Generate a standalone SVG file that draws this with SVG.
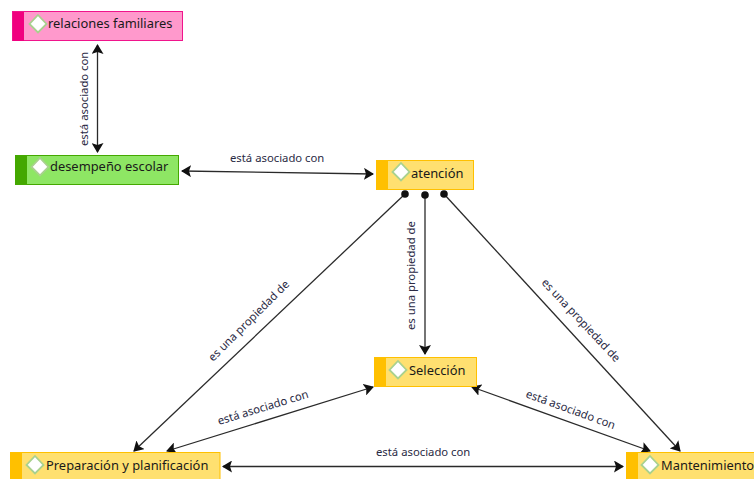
<svg xmlns="http://www.w3.org/2000/svg" width="754" height="479" viewBox="0 0 754 479">
<style>
.n{font:12.9px "Noto Sans","Open Sans",sans-serif;fill:#1a1a1a}
.l{font:11.300px "Noto Sans","Open Sans",sans-serif;fill:#2a2a44}
.c{fill:none;stroke:#2a2a2a;stroke-width:1.300}
.d{fill:#fff;stroke:#a9d18e;stroke-width:1.800}
.y{fill:#ffe070;stroke:#ffc000}.yb{fill:#ffc000}
</style>
<defs>
<marker id="a" viewBox="0 0 10 12" refX="9" refY="6" markerWidth="10" markerHeight="12" markerUnits="userSpaceOnUse" orient="auto-start-reverse"><path d="M0 0L10 6L0 12L2 6Z" fill="#111"/></marker>
<marker id="o" viewBox="0 0 8 8" refX="4" refY="4" markerWidth="8" markerHeight="8" markerUnits="userSpaceOnUse"><circle cx="4" cy="4" r="3.800" fill="#111"/></marker>
</defs>
<g id="connectors">
<path class="c" d="M97.500 45V152" marker-start="url(#a)" marker-end="url(#a)"/>
<path class="c" d="M182 171L373 174" marker-start="url(#a)" marker-end="url(#a)"/>
<path class="c" d="M405 194L134 451" marker-start="url(#o)" marker-end="url(#a)"/>
<path class="c" d="M425 195V354" marker-start="url(#o)" marker-end="url(#a)"/>
<path class="c" d="M444 194L680 451" marker-start="url(#o)" marker-end="url(#a)"/>
<path class="c" d="M373 387L167 451" marker-start="url(#a)" marker-end="url(#a)"/>
<path class="c" d="M472 387L650 451" marker-start="url(#a)" marker-end="url(#a)"/>
<path class="c" d="M223 466.500H623" marker-start="url(#a)" marker-end="url(#a)"/>
<text class="l" transform="translate(88 146) rotate(-90)">está asociado con</text>
<text class="l" x="230" y="162">está asociado con</text>
<text class="l" transform="translate(213 362) rotate(-45)">es una propiedad de</text>
<text class="l" transform="translate(415 330) rotate(-90)">es una propiedad de</text>
<text class="l" transform="translate(541 283) rotate(47)">es una propiedad de</text>
<text class="l" transform="translate(219 425) rotate(-17)">está asociado con</text>
<text class="l" transform="translate(525 397) rotate(20)">está asociado con</text>
<text class="l" x="376" y="456">está asociado con</text>
</g>
<g id="relaciones"><rect x="12.500" y="11.500" width="170" height="29" fill="#ff99cc" stroke="#f0148c"/><rect x="13" y="12" width="11" height="29" fill="#f0007f"/><path class="d" d="M38 15L46.500 24L38 32.500L29.500 24Z"/><text class="n" x="48" y="28">relaciones familiares</text></g>
<g id="desempeno"><rect x="15.500" y="155.500" width="163" height="29" fill="#8ee664" stroke="#44a800"/><rect x="15" y="155" width="12" height="30" fill="#44a800"/><path class="d" d="M40 158L48.500 167L40 175.500L31.500 167Z"/><text class="n" x="50" y="171">desempeño escolar</text></g>
<g id="atencion"><rect class="y" x="376.500" y="160.500" width="97" height="29"/><rect class="yb" x="376" y="160" width="12" height="30"/><path class="d" d="M401 163L409.500 172L401 180.500L392.500 172Z"/><text class="n" x="411" y="178">atención</text></g>
<g id="seleccion"><rect class="y" x="374.500" y="357.500" width="102" height="29"/><rect class="yb" x="374" y="357" width="12" height="30"/><path class="d" d="M398 361L406.500 370L398 378.500L389.500 370Z"/><text class="n" x="409" y="375">Selección</text></g>
<g id="preparacion"><rect class="y" x="10.500" y="452.500" width="209.500" height="29"/><rect class="yb" x="10" y="452" width="12" height="30"/><path class="d" d="M35 456L43.500 465L35 473.500L26.500 465Z"/><text class="n" x="46" y="470">Preparación y planificación</text></g>
<g id="mantenimiento"><rect class="y" x="626.500" y="452.500" width="140" height="29"/><rect class="yb" x="626" y="452" width="12" height="30"/><path class="d" d="M650 456L658.500 465L650 473.500L641.500 465Z"/><text class="n" x="661" y="470">Mantenimiento</text></g>
</svg>
